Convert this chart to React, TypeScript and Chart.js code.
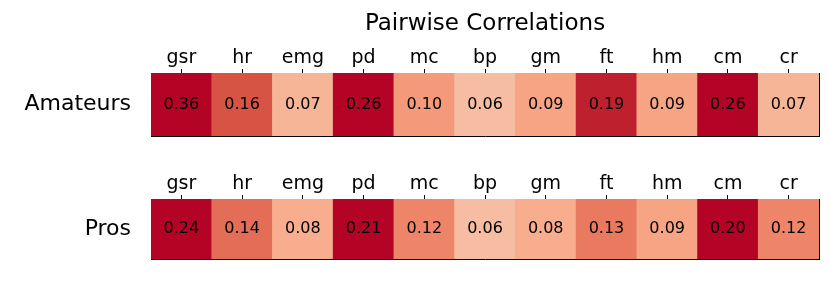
import React, { useEffect, useRef } from 'react';
import { Chart, registerables } from 'chart.js';
Chart.register(...registerables);

const categories = ['gsr', 'hr', 'emg', 'pd', 'mc', 'bp', 'gm', 'ft', 'hm', 'cm', 'cr'];
const amateurs = [0.36, 0.16, 0.07, 0.26, 0.10, 0.06, 0.09, 0.19, 0.09, 0.26, 0.07];
const pros = [0.24, 0.14, 0.08, 0.21, 0.12, 0.06, 0.08, 0.13, 0.09, 0.20, 0.12];
const rowLabels = ['Amateurs', 'Pros'];
const chartTitle = 'Pairwise Correlations';
const vmin = -0.2;
const vmax = 0.2;

// matplotlib "coolwarm" (Moreland) control points
const COOLWARM: number[][] = [
  [59, 76, 192], [68, 90, 204], [77, 104, 215], [87, 117, 225], [98, 130, 234],
  [108, 142, 241], [119, 154, 247], [130, 165, 251], [141, 176, 254], [152, 185, 255],
  [163, 194, 255], [174, 201, 253], [184, 208, 249], [194, 213, 244], [204, 217, 238],
  [213, 219, 230], [221, 221, 221], [229, 216, 209], [236, 211, 197], [241, 204, 184],
  [245, 196, 172], [247, 187, 159], [247, 177, 147], [247, 166, 134], [244, 154, 123],
  [241, 141, 111], [236, 127, 99], [229, 112, 89], [222, 96, 77], [213, 80, 66],
  [203, 62, 56], [192, 40, 47], [180, 4, 38],
];

function coolwarm(v: number): string {
  let t = (v - vmin) / (vmax - vmin);
  t = Math.max(0, Math.min(1, t));
  const pos = t * (COOLWARM.length - 1);
  const i = Math.min(Math.floor(pos), COOLWARM.length - 2);
  const f = pos - i;
  const a = COOLWARM[i];
  const b = COOLWARM[i + 1];
  const c = a.map((x, k) => Math.round(x + (b[k] - x) * f));
  return `rgb(${c[0]},${c[1]},${c[2]})`;
}

const FONT = "'DejaVu Sans', sans-serif";

const valueLabelPlugin = {
  id: 'valueLabels',
  afterDatasetsDraw(chart: any, _args: any, opts: any) {
    const ctx = chart.ctx;
    const meta = chart.getDatasetMeta(0);
    const vals = opts.values as number[];
    ctx.save();
    ctx.font = `16px ${FONT}`;
    ctx.fillStyle = '#000';
    ctx.textAlign = 'center';
    ctx.textBaseline = 'middle';
    meta.data.forEach((bar: any, i: number) => {
      const p = bar.getProps(['x', 'y', 'base'], true);
      ctx.fillText(vals[i].toFixed(2), p.x, (p.y + p.base) / 2);
    });
    ctx.restore();
  },
};

const centerTitlePlugin = {
  id: 'centerTitle',
  afterDraw(chart: any, _args: any, opts: any) {
    if (!opts.text) return;
    const ctx = chart.ctx;
    const ca = chart.chartArea;
    ctx.save();
    ctx.font = `23px ${FONT}`;
    ctx.fillStyle = '#000';
    ctx.textAlign = 'center';
    ctx.textBaseline = 'alphabetic';
    ctx.fillText(opts.text, (ca.left + ca.right) / 2, opts.y);
    ctx.restore();
  },
};

function zeroPad(s: any) {
  s.paddingTop = 0;
  s.paddingBottom = 0;
  s.paddingLeft = 0;
  s.paddingRight = 0;
}

function HeatRow(props: {
  values: number[];
  rowLabel: string;
  top: number;
  height: number;
  padTop: number;
  axisTop: number;
  padBottom: number;
  title?: string;
}) {
  const ref = useRef<HTMLCanvasElement | null>(null);
  useEffect(() => {
    if (!ref.current) return;
    const chart = new Chart(ref.current, {
      type: 'bar',
      data: {
        labels: categories,
        datasets: [
          {
            data: props.values.map(() => 1),
            backgroundColor: props.values.map((v) => coolwarm(v)),
            borderWidth: 0,
            barPercentage: 1,
            categoryPercentage: 1,
          },
        ],
      },
      options: {
        responsive: false,
        animation: false,
        layout: { padding: { top: props.padTop, left: 0, right: 11, bottom: props.padBottom } },
        plugins: {
          legend: { display: false },
          tooltip: { enabled: false },
          title: { display: false },
          valueLabels: { values: props.values },
          centerTitle: { text: props.title || '', y: 29.5 },
        } as any,
        scales: {
          x: {
            type: 'category',
            position: 'top',
            offset: true,
            grid: {
              display: true,
              drawOnChartArea: false,
              drawTicks: true,
              tickLength: 4,
              offset: false,
              color: '#000',
            },
            border: { display: true, color: '#000', width: 1 },
            ticks: {
              font: { family: FONT, size: 19 },
              color: '#000',
              padding: 0,
              maxRotation: 0,
              autoSkip: false,
            },
            afterFit: (s: any) => {
              s.height = props.axisTop;
              zeroPad(s);
            },
          },
          x2: {
            type: 'category',
            position: 'bottom',
            labels: categories,
            grid: { display: true, drawOnChartArea: false, drawTicks: false },
            border: { display: true, color: '#000', width: 1 },
            ticks: { display: false },
            afterFit: (s: any) => {
              s.height = 0;
              zeroPad(s);
            },
          },
          y: {
            type: 'linear',
            position: 'left',
            min: 0,
            max: 1,
            grid: { display: true, drawOnChartArea: false, drawTicks: false },
            border: { display: true, color: '#000', width: 1 },
            afterBuildTicks: (s: any) => {
              s.ticks = [{ value: 0.5 }];
            },
            ticks: {
              font: { family: FONT, size: 22 },
              color: '#000',
              padding: 20,
              callback: () => props.rowLabel,
            },
            afterFit: (s: any) => {
              s.width = 151;
              zeroPad(s);
            },
          },
          y2: {
            type: 'linear',
            position: 'right',
            min: 0,
            max: 1,
            grid: { display: true, drawOnChartArea: false, drawTicks: false },
            border: { display: true, color: '#000', width: 1 },
            ticks: { display: false },
            afterFit: (s: any) => {
              s.width = 0;
              zeroPad(s);
            },
          },
        },
      },
      plugins: [valueLabelPlugin, centerTitlePlugin],
    } as any);
    return () => chart.destroy();
  }, []);
  return (
    <canvas
      ref={ref}
      width={830}
      height={props.height}
      style={{ position: 'absolute', left: 0, top: props.top, width: 830, height: props.height }}
    />
  );
}

export default function App() {
  return (
    <div style={{ position: 'absolute', left: 0, top: 0, width: 830, height: 293, background: '#fff' }}>
      <HeatRow values={amateurs} rowLabel={rowLabels[0]} top={0} height={150} padTop={30} axisTop={43} padBottom={14} title={chartTitle} />
      <HeatRow values={pros} rowLabel={rowLabels[1]} top={150} height={143} padTop={0} axisTop={49} padBottom={34} />
    </div>
  );
}
